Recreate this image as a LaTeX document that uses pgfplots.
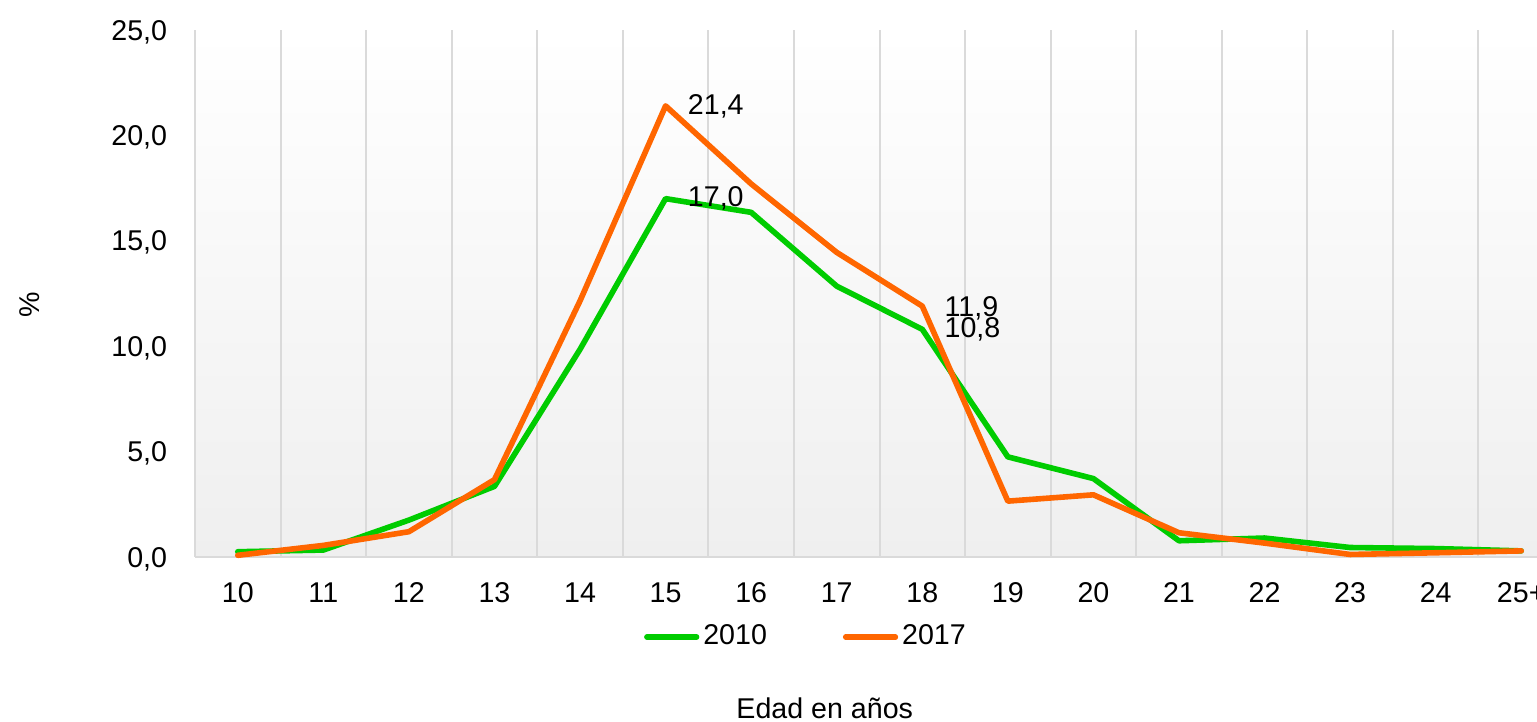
\documentclass[border=0pt]{standalone}
\usepackage{fontspec}
\setmainfont{Liberation Sans}
\usepackage{pgfplots}
\pgfplotsset{compat=1.18}
\usepackage{pgfplotstable}
\definecolor{cgreen}{HTML}{00CC00}
\definecolor{corange}{HTML}{FF6600}
\definecolor{bggray}{HTML}{EFEFEF}
\definecolor{gridgray}{HTML}{DADADA}
\pgfplotstableread{
x y2010 y2017
0 0.25 0.08
1 0.33 0.55
2 1.75 1.20
3 3.35 3.67
4 9.85 12.15
5 17.0 21.4
6 16.35 17.7
7 12.85 14.45
8 10.8 11.9
9 4.75 2.65
10 3.72 2.95
11 0.77 1.15
12 0.90 0.66
13 0.45 0.12
14 0.40 0.20
15 0.29 0.29
}\datatable
\begin{document}
\fontsize{14.3}{17}\selectfont
\begin{tikzpicture}
\begin{axis}[
  at={(0,0)}, anchor=south west,
  scale only axis,
  width=684.5pt, height=263.5pt,
  xmin=-0.5, xmax=15.5,
  ymin=0, ymax=25,
  xtick={0,...,15},
  xticklabels={10,11,12,13,14,15,16,17,18,19,20,21,22,23,24,25+},
  ytick={0,5,10,15,20,25},
  minor xtick={-0.5,0.5,...,15.5},
  xminorgrids,
  minor grid style={gridgray, line width=1pt},
  major tick length=0pt,
  minor tick length=0pt,
  axis x line*=bottom,
  axis y line*=left,
  axis line style={gridgray, line width=1.2pt, -},
  axis background/.style={top color=white, bottom color=bggray},
  /pgf/number format/.cd, fixed, fixed zerofill, precision=1, use comma, assume math mode=true,
  /pgfplots/.cd,
  tick label style={font=\fontsize{14.3}{17}\selectfont},
  yticklabel style={xshift=-9pt, yshift=-1pt},
  xticklabel style={yshift=-8pt},
  ylabel={\%},
  ylabel style={at={(axis description cs:-0.1205,0.478)}, anchor=center, rotate=0},
  xlabel={Edad en años},
  xlabel style={at={(axis description cs:0.46,-0.287)}, anchor=center},
  legend columns=2,
  legend style={at={(axis description cs:0.447,-0.152)}, anchor=center, draw=none, fill=none,
    /tikz/every even column/.append style={column sep=36pt},
    font=\fontsize{14.3}{17}\selectfont},
  legend image code/.code={\draw[#1, line width=2.6pt, line cap=round] (0pt,0pt) -- (25pt,0pt);},
  clip=false,
]
\addplot[cgreen, line width=2.8pt, line join=round, line cap=round] table[x=x, y=y2010] {\datatable};
\addlegendentry{2010}
\addplot[corange, line width=2.8pt, line join=round, line cap=round] table[x=x, y=y2017] {\datatable};
\addlegendentry{2017}
\node[anchor=west, inner sep=0pt, xshift=11pt] at (axis cs:5,21.4) {21,4};
\node[anchor=west, inner sep=0pt, xshift=11pt] at (axis cs:5,17.0) {17,0};
\node[anchor=west, inner sep=0pt, xshift=11pt, yshift=-1pt] at (axis cs:8,11.9) {11,9};
\node[anchor=west, inner sep=0pt, xshift=11pt] at (axis cs:8,10.8) {10,8};
\end{axis}
\pgfresetboundingbox
\path[use as bounding box] (-97.5pt,-82.5pt) rectangle (671pt,278.5pt);
\end{tikzpicture}
\end{document}
